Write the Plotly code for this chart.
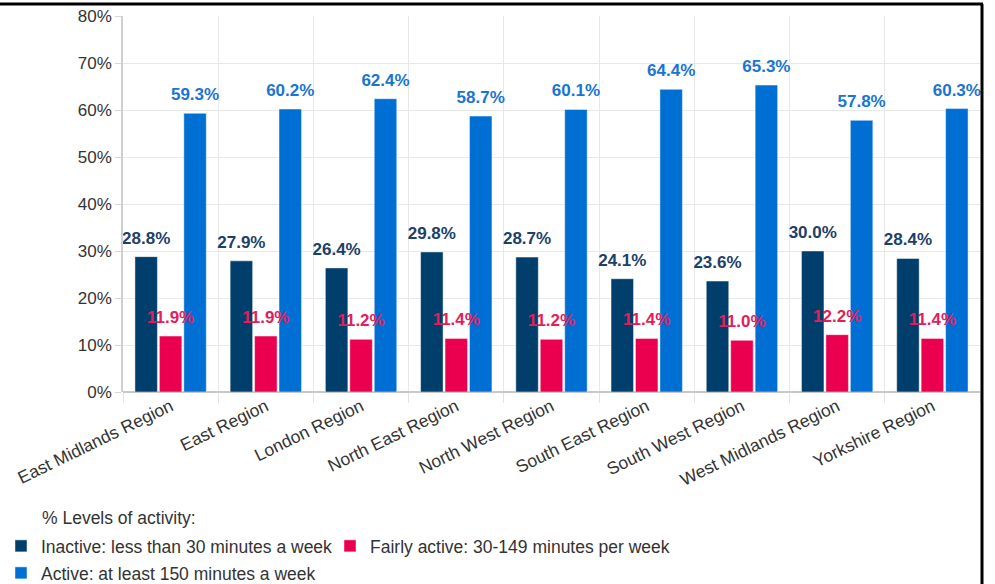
import plotly.graph_objects as go

regions = ["East Midlands Region", "East Region", "London Region", "North East Region",
           "North West Region", "South East Region", "South West Region",
           "West Midlands Region", "Yorkshire Region"]
inactive = [28.8, 27.9, 26.4, 29.8, 28.7, 24.1, 23.6, 30.0, 28.4]
fairly = [11.9, 11.9, 11.2, 11.4, 11.2, 11.4, 11.0, 12.2, 11.4]
active = [59.3, 60.2, 62.4, 58.7, 60.1, 64.4, 65.3, 57.8, 60.3]
series_names = ["Inactive: less than 30 minutes a week",
                "Fairly active: 30-149 minutes per week",
                "Active: at least 150 minutes a week"]
y_ticks = [0, 10, 20, 30, 40, 50, 60, 70, 80]

W, H = 995, 584
ml, mr, mt, mb = 123, 15, 16, 192
pw, ph = W - ml - mr, H - mt - mb
FONT = "Liberation Sans, Arial, sans-serif"

fig = go.Figure()
specs = [
    (inactive, series_names[0], "#003f6b", "#1d4068", "legend"),
    (fairly, series_names[1], "#ea004e", "#e41d5c", "legend3"),
    (active, series_names[2], "#006fd3", "#1a74d2", "legend2"),
]
for vals, name, col, tcol, lg in specs:
    fig.add_trace(go.Bar(
        x=regions, y=vals, name=name, legend=lg,
        marker=dict(color=col, line=dict(color="rgba(255,255,255,0.45)", width=1)),
        hoverinfo="x+y",
    ))
for vals, name, col, tcol, lg in specs:
    fig.add_trace(go.Scatter(
        x=regions, y=vals, mode="markers+text", showlegend=False,
        marker=dict(size=12.5, color="rgba(0,0,0,0)"),
        text=[f"{v:.1f}%" for v in vals], textposition="top center",
        textfont=dict(color=tcol, size=17, family=FONT, weight="bold"),
        hoverinfo="skip", cliponaxis=False,
    ))

legend_common = dict(
    orientation="h", xref="container", yref="container",
    xanchor="left", yanchor="middle",
    font=dict(size=17.5, color="#333333", family=FONT),
    itemclick=False, bgcolor="rgba(0,0,0,0)",
)

fig.update_layout(
    width=W, height=H,
    margin=dict(l=ml, r=mr, t=mt, b=mb, autoexpand=False),
    paper_bgcolor="white", plot_bgcolor="white",
    barmode="group", bargap=0.23, bargroupgap=0.08,
    scattermode="group", scattergap=0.23,
    font=dict(family=FONT, color="#333333"),
    xaxis=dict(
        tickangle=-26, tickfont=dict(size=17.5, color="#333333"),
        showgrid=True, gridcolor="#e8e8e8", tickson="boundaries",
        ticks="outside", ticklen=10, tickcolor="#e2e2e2",
        showline=False, automargin=False,
    ),
    yaxis=dict(
        range=[0, 80], tickvals=y_ticks, ticktext=[f"{v}%" for v in y_ticks],
        tickfont=dict(size=17, color="#333333"),
        showgrid=True, gridcolor="#e8e8e8", zeroline=True, zerolinecolor="#c8c8c8",
        zerolinewidth=1.5,
        showline=True, linecolor="#cfcfcf", linewidth=1.5,
        ticks="outside", ticklen=6, tickcolor="#d6d6d6", automargin=False,
    ),
    legend=dict(legend_common, x=0.001, y=1 - 546 / H),
    legend3=dict(legend_common, x=330 / W, y=1 - 546 / H),
    legend2=dict(legend_common, x=0.001, y=1 - 573 / H),
    annotations=[dict(
        text="% Levels of activity:", xref="paper", yref="paper",
        x=(40 - ml) / pw, y=(H - mb - 518) / ph, xanchor="left", yanchor="middle",
        showarrow=False, font=dict(size=17.5, color="#333333", family=FONT),
    )],
    shapes=[
        dict(type="line", xref="paper", yref="paper",
             x0=(0 - ml) / pw, x1=(983 - ml) / pw,
             y0=1 + (mt - 4) / ph, y1=1 + (mt - 4) / ph,
             line=dict(color="black", width=3)),
        dict(type="line", xref="paper", yref="paper",
             x0=(982 - ml) / pw, x1=(982 - ml) / pw,
             y0=1 + (mt - 4) / ph, y1=(H - mb - 584) / ph,
             line=dict(color="black", width=3)),
    ],
)

fig.write_html("out.html")
